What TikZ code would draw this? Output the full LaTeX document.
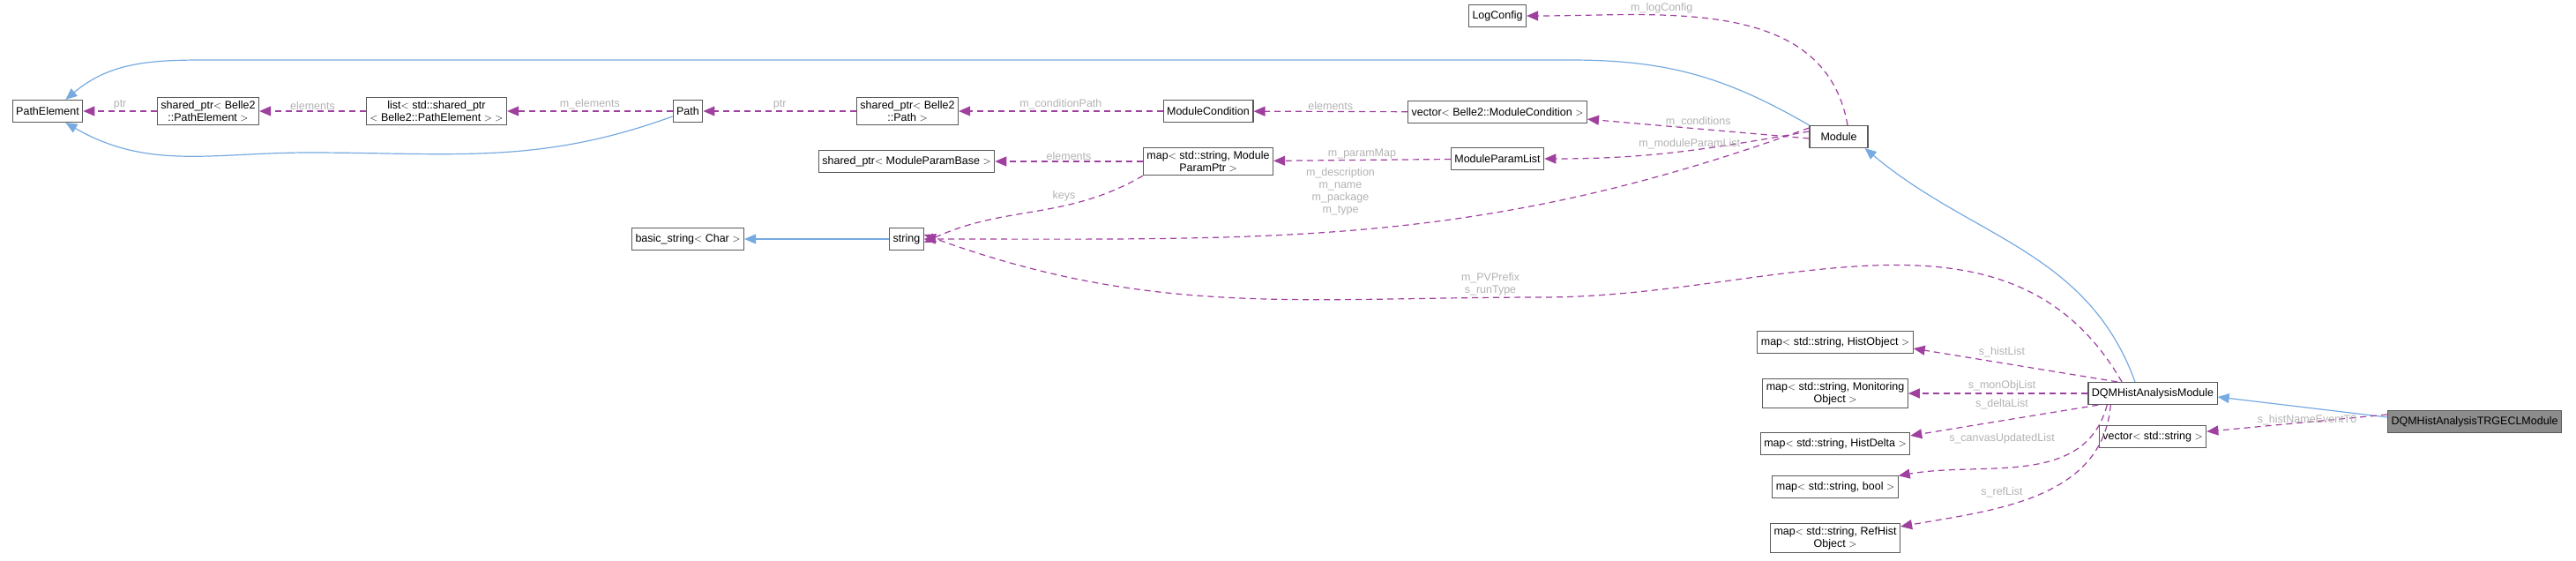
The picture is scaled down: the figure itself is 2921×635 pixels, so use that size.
\documentclass[tikz,border=0pt]{standalone}
\usepackage{fontspec}
\setmainfont{Liberation Sans}
\usetikzlibrary{arrows.meta, positioning, calc}

\begin{document}
\begin{tikzpicture}[x=1pt,y=-1pt,font=\fontsize{12.5}{14}\selectfont,
		cls/.style={draw=black!65,line width=1.2pt,fill=white,inner sep=4pt,minimum height=25pt,align=center},
		inh/.style={draw=cyan!60!blue!55,line width=1.2pt,-{Triangle[open,fill=cyan!60!blue!55,length=13pt,width=11pt]}},
		use/.style={draw=violet!75,line width=1.2pt,dash pattern=on 7pt off 5pt,-{Triangle[fill=violet!75,length=13pt,width=11pt]}},
		lbl/.style={text=black!30,inner sep=1pt,align=center}]
		\useasboundingbox (0,0) rectangle (2921,635);
		
		\node[cls] (PathElement) at (54,126)   {PathElement};
		\node[cls] (SpPE)        at (236,126)  {shared\_ptr$<$ Belle2\\::PathElement $>$};
		\node[cls] (ListSp)      at (495,126)  {list$<$ std::shared\_ptr\\$<$ Belle2::PathElement $>$ $>$};
		\node[cls] (Path)        at (780,126)  {Path};
		\node[cls] (SpPath)      at (1029,126) {shared\_ptr$<$ Belle2\\::Path $>$};
		\node[cls] (ModCond)     at (1370,126) {ModuleCondition};
		\node[cls] (VecCond)     at (1698,127) {vector$<$ Belle2::ModuleCondition $>$};
		\node[cls] (LogConfig)   at (1698,18)  {LogConfig};
		\node[cls,minimum width=66pt] (Module) at (2085,155) {Module};
		\node[cls] (SpMPB)       at (1028,183) {shared\_ptr$<$ ModuleParamBase $>$};
		\node[cls] (MapMPP)      at (1370,183) {map$<$ std::string, Module\\ParamPtr $>$};
		\node[cls] (MPList)      at (1698,180) {ModuleParamList};
		\node[cls] (BasicStr)    at (780,271)  {basic\_string$<$ Char $>$};
		\node[cls] (String)      at (1028,271) {string};
		\node[cls] (MapHO)       at (2081,388) {map$<$ std::string, HistObject $>$};
		\node[cls] (MapMO)       at (2081,446) {map$<$ std::string, Monitoring\\Object $>$};
		\node[cls] (MapHD)       at (2081,503) {map$<$ std::string, HistDelta $>$};
		\node[cls] (MapB)        at (2081,552) {map$<$ std::string, bool $>$};
		\node[cls] (MapRH)       at (2081,610) {map$<$ std::string, RefHist\\Object $>$};
		\node[cls] (DQMHist)     at (2441,446) {DQMHistAnalysisModule};
		\node[cls] (VecStr)      at (2441,495) {vector$<$ std::string $>$};
		\node[cls,fill=black!45] (TRGECL) at (2806,478) {DQMHistAnalysisTRGECLModule};
		
		% inheritance
		\coordinate (topR) at (1780,68);
		\coordinate (topL) at (230,68);
		\coordinate (botP) at (350,173);
		\draw[inh] (Module.north west) to[out=150,in=0] (topR) -- (topL) to[out=180,in=40] ([xshift=-20pt]PathElement.north east);
		\draw[inh] ([yshift=-6pt]Path.west) to[out=200,in=0] (botP) to[out=180,in=-30] ([xshift=-20pt]PathElement.south east);
		\draw[inh] (String) -- (BasicStr);
		\draw[inh] ([xshift=-20pt]DQMHist.north) to[out=110,in=-40] ([xshift=-4pt]Module.south east);
		\draw[inh] ([yshift=5pt]TRGECL.west) -- ([yshift=-4pt]DQMHist.east);
		
		% members
		\draw[use] (SpPE) -- node[lbl,above]{ptr} (PathElement);
		\draw[use] (ListSp) -- node[lbl,above]{elements} (SpPE);
		\draw[use] (Path) -- node[lbl,above]{m\_elements} (ListSp);
		\draw[use] (SpPath) -- node[lbl,above]{ptr} (Path);
		\draw[use] (ModCond) -- node[lbl,above]{m\_conditionPath} (SpPath);
		\draw[use] (VecCond) -- node[lbl,above]{elements} (ModCond);
		\draw[use] ([yshift=-2pt]Module.west) to[out=175,in=-5] node[lbl,above,pos=0.5]{m\_conditions} ([yshift=5pt]VecCond.south east);
		\draw[use] ([xshift=10pt]Module.north) to[out=100,in=0] node[lbl,pos=0.75,above right]{m\_logConfig} (LogConfig);
		\draw[use] ([yshift=6pt]Module.west) to[out=190,in=0] node[lbl,above,pos=0.45]{m\_moduleParamList} (MPList);
		\draw[use] (MPList) -- node[lbl,above]{m\_paramMap} (MapMPP);
		\draw[use] (MapMPP) -- node[lbl,above]{elements} (SpMPB);
		\draw[use] (MapMPP.south west) to[out=-150,in=25] node[lbl,pos=0.3,above left]{keys} ([yshift=-4pt]String.east);
		\draw[use] ([yshift=10pt]Module.west) to[out=200,in=0] (String.east);
		\node[lbl] at (1520,217) {m\_description\\m\_name\\m\_package\\m\_type};
		\coordinate (pvTop) at (1750,337);
		\draw[use] ([xshift=-35pt]DQMHist.north) to[out=120,in=0] (pvTop) to[out=180,in=-20] ([yshift=5pt]String.east);
		\node[lbl] at (1690,322) {m\_PVPrefix\\s\_runType};
		\draw[use] ([xshift=-40pt]DQMHist.north) -- ([yshift=6pt]MapHO.south east);
		\node[lbl] at (2270,399) {s\_histList};
		\draw[use] (DQMHist) -- (MapMO);
		\node[lbl] at (2270,437) {s\_monObjList};
		\draw[use] ([xshift=12pt]DQMHist.south west) -- ([yshift=-4pt]MapHD.north east);
		\node[lbl] at (2270,458) {s\_deltaList};
		\draw[use] ([xshift=22pt]DQMHist.south west) to[out=-105,in=10] (MapB);
		\node[lbl] at (2270,497) {s\_canvasUpdatedList};
		\draw[use] ([xshift=26pt]DQMHist.south west) to[out=-95,in=10] (MapRH);
		\node[lbl] at (2270,558) {s\_refList};
		\coordinate (tw) at ([yshift=8pt]TRGECL.west);
		\draw[use] (tw) -- (VecStr);
		\node[lbl] at (2616,476) {s\_histNameEventT0};
	\end{tikzpicture}
\end{document}
